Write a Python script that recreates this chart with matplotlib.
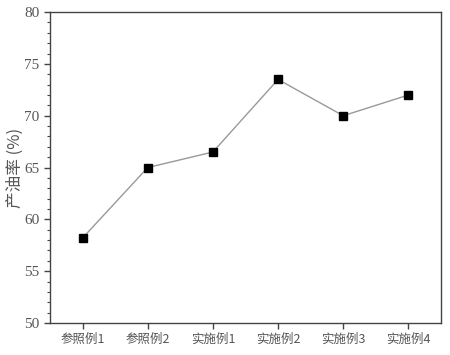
import numpy as np
import matplotlib
matplotlib.use("Agg")
import matplotlib.pyplot as plt
from matplotlib.ticker import MultipleLocator

plt.rcParams['font.family'] = ['Liberation Serif', 'Noto Sans CJK SC', 'DejaVu Sans']

# data
categories = ['参照例1', '参照例2', '实施例1', '实施例2', '实施例3', '实施例4']
oil_yield = [58.2, 65.0, 66.5, 73.5, 70.0, 72.0]

ink = '#555555'

fig = plt.figure(figsize=(4.5, 3.55), dpi=100)
ax = fig.add_axes([0.111, 0.09, 0.869, 0.876])

x = np.arange(len(categories))
ax.plot(x, oil_yield, color='#999999', lw=1.0, zorder=2)
ax.plot(x, oil_yield, ls='none', marker='s', ms=5.2, mfc='black', mec='black', zorder=3)

ax.set_xlim(-0.5, len(categories) - 0.5)
ax.set_ylim(50, 80)
ax.set_xticks(x)
ax.set_xticklabels(categories, family=['Noto Sans CJK SC', 'DejaVu Sans'], fontsize=9)
ax.yaxis.set_major_locator(MultipleLocator(5))
ax.yaxis.set_minor_locator(MultipleLocator(1))
ax.tick_params(axis='both', which='both', direction='out', colors='#444444', labelcolor=ink)
ax.tick_params(axis='y', which='major', length=4, width=1, labelsize=11)
ax.tick_params(axis='y', which='minor', length=2, width=0.8)
ax.tick_params(axis='x', which='major', length=4, width=1, pad=3)
for s in ax.spines.values():
    s.set_color('#444444')
    s.set_linewidth(1.0)

ax.set_ylabel('产油率 (%)', family=['Noto Sans CJK SC', 'DejaVu Sans'], fontsize=12, color=ink, labelpad=0)

fig.savefig('out.png', dpi=100)
